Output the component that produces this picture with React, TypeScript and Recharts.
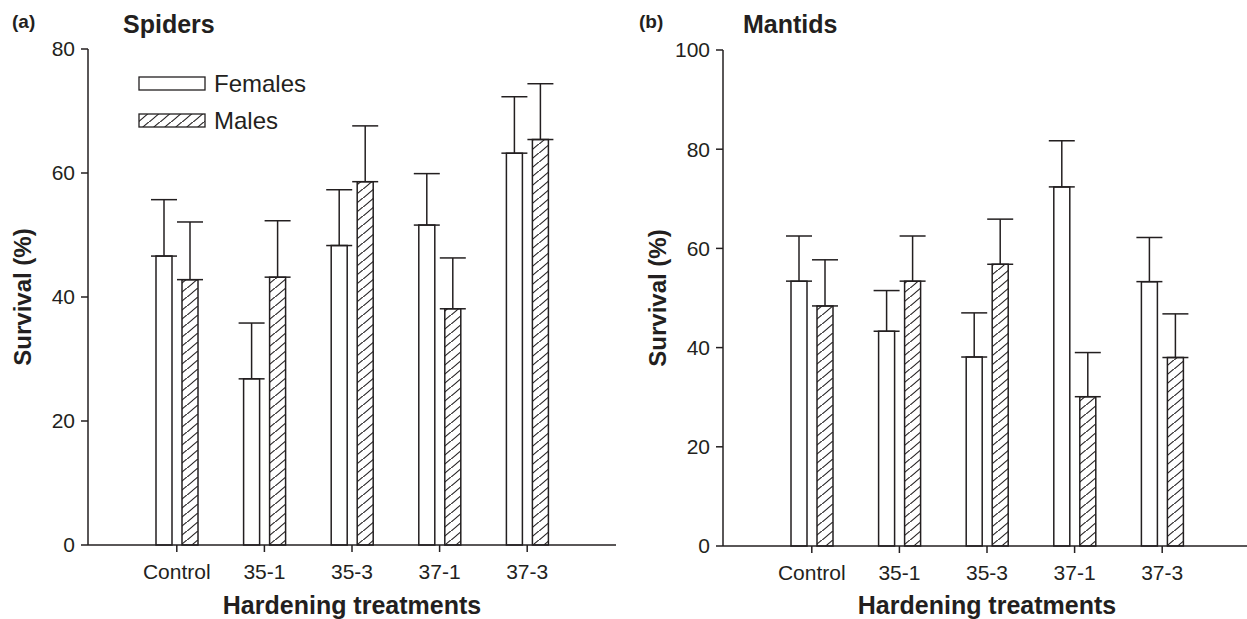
import React from 'react'
import { BarChart, Bar, XAxis, YAxis, ErrorBar, Legend } from 'recharts'

const categories = ['Control', '35-1', '35-3', '37-1', '37-3']

const spiderFemales = [46.6, 26.8, 48.3, 51.6, 63.2]
const spiderFemalesSE = [9.1, 9.0, 9.0, 8.3, 9.1]
const spiderMales = [42.8, 43.2, 58.6, 38.1, 65.4]
const spiderMalesSE = [9.3, 9.1, 9.0, 8.2, 9.0]

const mantidFemales = [53.4, 43.3, 38.1, 72.4, 53.3]
const mantidFemalesSE = [9.1, 8.2, 8.9, 9.3, 8.9]
const mantidMales = [48.4, 53.4, 56.8, 30.1, 38.0]
const mantidMalesSE = [9.3, 9.1, 9.1, 8.9, 8.8]

const spiderTicks = [0, 20, 40, 60, 80]
const mantidTicks = [0, 20, 40, 60, 80, 100]

const INK = '#231f20'
const FONT = 'Arial, "Liberation Sans", Helvetica, sans-serif'

const buildRows = (f: number[], fe: number[], m: number[], me: number[]) =>
  categories.map((name, i) => ({
    name,
    females: f[i],
    femalesErr: [0, fe[i]],
    males: m[i],
    malesErr: [0, me[i]],
  }))

const spiderRows = buildRows(spiderFemales, spiderFemalesSE, spiderMales, spiderMalesSE)
const mantidRows = buildRows(mantidFemales, mantidFemalesSE, mantidMales, mantidMalesSE)

// legend drawn from the bar payload, with the same hatch as the male bars
const renderLegend = (props: any) => {
  const items = props.payload || []
  return (
    <div style={{ fontFamily: FONT, color: INK }}>
      {items.map((entry: any, i: number) => (
        <div key={i} style={{ display: 'flex', alignItems: 'center', height: 37 }}>
          <svg width={68} height={15} style={{ display: 'block' }}>
            <rect
              x={1}
              y={1}
              width={66}
              height={13}
              fill={entry.dataKey === 'males' ? 'url(#hatch)' : '#fff'}
              stroke={INK}
              strokeWidth={1.3}
            />
          </svg>
          <span style={{ fontSize: 24, marginLeft: 8, lineHeight: '24px' }}>{entry.value}</span>
        </div>
      ))}
    </div>
  )
}

function Panel({ rows, ticks, max, top, showLegend }: { rows: any[]; ticks: number[]; max: number; top: number; showLegend?: boolean }) {
  const tickStyle = { fontSize: 21, fill: INK, fontFamily: FONT }
  return (
    <BarChart
      width={640}
      height={619}
      data={rows}
      margin={{ top, right: 24, bottom: 619 - top - 496 - 30, left: 0 }}
      barSize={16}
      barGap={10}
    >
      <defs>
        <pattern id="hatch" patternUnits="userSpaceOnUse" width={11} height={9}>
          <rect width={11} height={9} fill="#fff" />
          <path d="M-1,10 L12,-1" stroke={INK} strokeWidth={1.1} />
        </pattern>
      </defs>
      <XAxis
        dataKey="name"
        height={30}
        padding={{ left: 45, right: 45 }}
        tickSize={7}
        tickMargin={12}
        axisLine={{ stroke: INK, strokeWidth: 1.5 }}
        tickLine={{ stroke: INK, strokeWidth: 1.5 }}
        tick={tickStyle}
        interval={0}
      />
      <YAxis
        width={88}
        domain={[0, max]}
        ticks={ticks}
        tickSize={7}
        tickMargin={6}
        axisLine={{ stroke: INK, strokeWidth: 1.5 }}
        tickLine={{ stroke: INK, strokeWidth: 1.5 }}
        tick={tickStyle}
      />
      {showLegend && (
        <Legend
          layout="vertical"
          verticalAlign="middle"
          align="center"
          content={renderLegend}
          wrapperStyle={{ position: 'absolute', left: 138, top: 65, width: 200, height: 74 }}
        />
      )}
      <Bar dataKey="females" name="Females" fill="#fff" stroke={INK} strokeWidth={1.5} isAnimationActive={false}>
        <ErrorBar dataKey="femalesErr" width={13} stroke={INK} strokeWidth={1.5} />
      </Bar>
      <Bar dataKey="males" name="Males" fill="url(#hatch)" stroke={INK} strokeWidth={1.5} isAnimationActive={false}>
        <ErrorBar dataKey="malesErr" width={13} stroke={INK} strokeWidth={1.5} />
      </Bar>
    </BarChart>
  )
}

export default function App() {
  const boldText = { fontFamily: FONT, fontWeight: 700, fill: INK } as const
  return (
    <div style={{ position: 'absolute', left: 0, top: 0, width: 1247, height: 619, overflow: 'hidden', background: '#fff' }}>
      <div style={{ position: 'absolute', left: 0, top: 0 }}>
        <Panel rows={spiderRows} ticks={spiderTicks} max={80} top={49} showLegend />
      </div>
      <div style={{ position: 'absolute', left: 635, top: 0 }}>
        <Panel rows={mantidRows} ticks={mantidTicks} max={100} top={50} />
      </div>
      <svg width={1247} height={619} style={{ position: 'absolute', left: 0, top: 0, pointerEvents: 'none' }}>
        <text x={12} y={28} fontSize={19} {...boldText}>(a)</text>
        <text x={123} y={33} fontSize={25} {...boldText}>Spiders</text>
        <text x={639} y={28} fontSize={19} {...boldText}>(b)</text>
        <text x={743} y={33} fontSize={25} {...boldText}>Mantids</text>
        <text x={31} y={297} fontSize={24} textAnchor="middle" transform="rotate(-90 31 297)" {...boldText}>Survival (%)</text>
        <text x={666} y={298} fontSize={24} textAnchor="middle" transform="rotate(-90 666 298)" {...boldText}>Survival (%)</text>
        <text x={352} y={614} fontSize={25} textAnchor="middle" {...boldText}>Hardening treatments</text>
        <text x={987} y={614} fontSize={25} textAnchor="middle" {...boldText}>Hardening treatments</text>
      </svg>
    </div>
  )
}
